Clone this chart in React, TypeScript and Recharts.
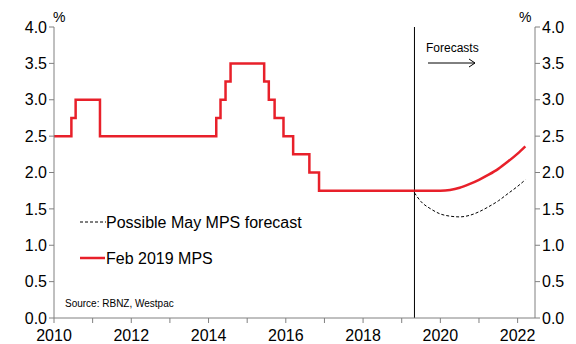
import React from 'react';
import { LineChart, Line, XAxis, YAxis, ReferenceLine } from 'recharts';

// OCR history (decimal year, %)
const ocrDates = [2010.0, 2010.45, 2010.56, 2011.19, 2014.2, 2014.31, 2014.44, 2014.57, 2015.44, 2015.56, 2015.71, 2015.94, 2016.19, 2016.61, 2016.86, 2019.33];
const ocrValues = [2.5, 2.75, 3.0, 2.5, 2.75, 3.0, 3.25, 3.5, 3.25, 3.0, 2.75, 2.5, 2.25, 2.0, 1.75, 1.75];

// Feb 2019 MPS projection
const febDates = [2019.33, 2019.75, 2020.0, 2020.25, 2020.5, 2020.75, 2021.0, 2021.25, 2021.5, 2021.75, 2022.0, 2022.2];
const febValues = [1.75, 1.75, 1.75, 1.76, 1.79, 1.84, 1.9, 1.97, 2.05, 2.15, 2.26, 2.36];

// Possible May MPS projection
const mayDates = [2019.33, 2019.5, 2019.75, 2020.0, 2020.25, 2020.5, 2020.75, 2021.0, 2021.25, 2021.5, 2021.75, 2022.0, 2022.2];
const mayValues = [1.72, 1.6, 1.5, 1.43, 1.4, 1.39, 1.41, 1.46, 1.53, 1.61, 1.71, 1.81, 1.9];

const xTicks = [2010, 2011, 2012, 2013, 2014, 2015, 2016, 2017, 2018, 2019, 2020, 2021, 2022];
const yTicks = [0, 0.5, 1, 1.5, 2, 2.5, 3, 3.5, 4];

const RED = '#e8202a';
const FONT = '"Liberation Sans", Arial, sans-serif';

const ocrData = ocrDates.map((d, i) => ({ x: d, y: ocrValues[i] }));
const febData = febDates.map((d, i) => ({ x: d, y: febValues[i] }));
const mayData = mayDates.map((d, i) => ({ x: d, y: mayValues[i] }));

const App: React.FC = () => {
  const tickStyle = { fill: '#000', fontSize: 16, fontFamily: FONT };
  return (
    <div style={{ position: 'absolute', left: 0, top: 0, width: 576, height: 344, background: '#fff' }}>
      <LineChart width={576} height={344} margin={{ top: 27, right: 0, bottom: 0, left: 0 }}>
        <XAxis
          dataKey="x"
          type="number"
          domain={[2010, 2022.45]}
          ticks={xTicks}
          allowDataOverflow
          tickFormatter={(v: number) => (v % 2 === 0 ? String(v) : '')}
          tick={{ ...tickStyle, dy: 5 }}
          tickSize={5}
          height={26}
          stroke="#808080"
          interval={0}
        />
        <YAxis
          yAxisId="left"
          domain={[0, 4]}
          ticks={yTicks}
          tickFormatter={(v: number) => v.toFixed(1)}
          tick={tickStyle}
          tickSize={5}
          width={54}
          stroke="#808080"
          interval={0}
        />
        <YAxis
          yAxisId="right"
          orientation="right"
          domain={[0, 4]}
          ticks={yTicks}
          tickFormatter={(v: number) => v.toFixed(1)}
          tick={tickStyle}
          tickSize={5}
          width={41}
          stroke="#808080"
          interval={0}
        />
        <ReferenceLine yAxisId="left" x={2019.33} stroke="#000" strokeWidth={1} />
        <Line
          yAxisId="left"
          data={mayData}
          dataKey="y"
          type="monotone"
          stroke="#000"
          strokeWidth={1}
          strokeDasharray="3 2"
          dot={false}
          isAnimationActive={false}
        />
        <Line
          yAxisId="left"
          data={ocrData}
          dataKey="y"
          type="stepAfter"
          stroke={RED}
          strokeWidth={2.5}
          dot={false}
          isAnimationActive={false}
        />
        <Line
          yAxisId="right"
          data={febData}
          dataKey="y"
          type="monotone"
          stroke={RED}
          strokeWidth={2.5}
          dot={false}
          isAnimationActive={false}
        />
      </LineChart>
      <svg
        width={576}
        height={344}
        style={{ position: 'absolute', left: 0, top: 0, pointerEvents: 'none', fontFamily: FONT }}
      >
        <text x={53} y={22} fontSize={14} fill="#000">%</text>
        <text x={519} y={22} fontSize={14} fill="#000">%</text>
        <text x={426} y={52} fontSize={12} fill="#000">Forecasts</text>
        <line x1={428} y1={63} x2={475} y2={63} stroke="#000" strokeWidth={1} />
        <polyline points="469,59 475,63 469,67" fill="none" stroke="#000" strokeWidth={1} />
        <line x1={80} y1={222} x2={106} y2={222} stroke="#000" strokeWidth={1} strokeDasharray="3 2" />
        <text x={106} y={228} fontSize={16} fill="#000">Possible May MPS forecast</text>
        <line x1={80} y1={258} x2={105} y2={258} stroke={RED} strokeWidth={2.5} />
        <text x={106} y={264} fontSize={16} fill="#000">Feb 2019 MPS</text>
        <text x={65} y={307} fontSize={10} fill="#000">Source: RBNZ, Westpac</text>
      </svg>
    </div>
  );
};

export default App;
